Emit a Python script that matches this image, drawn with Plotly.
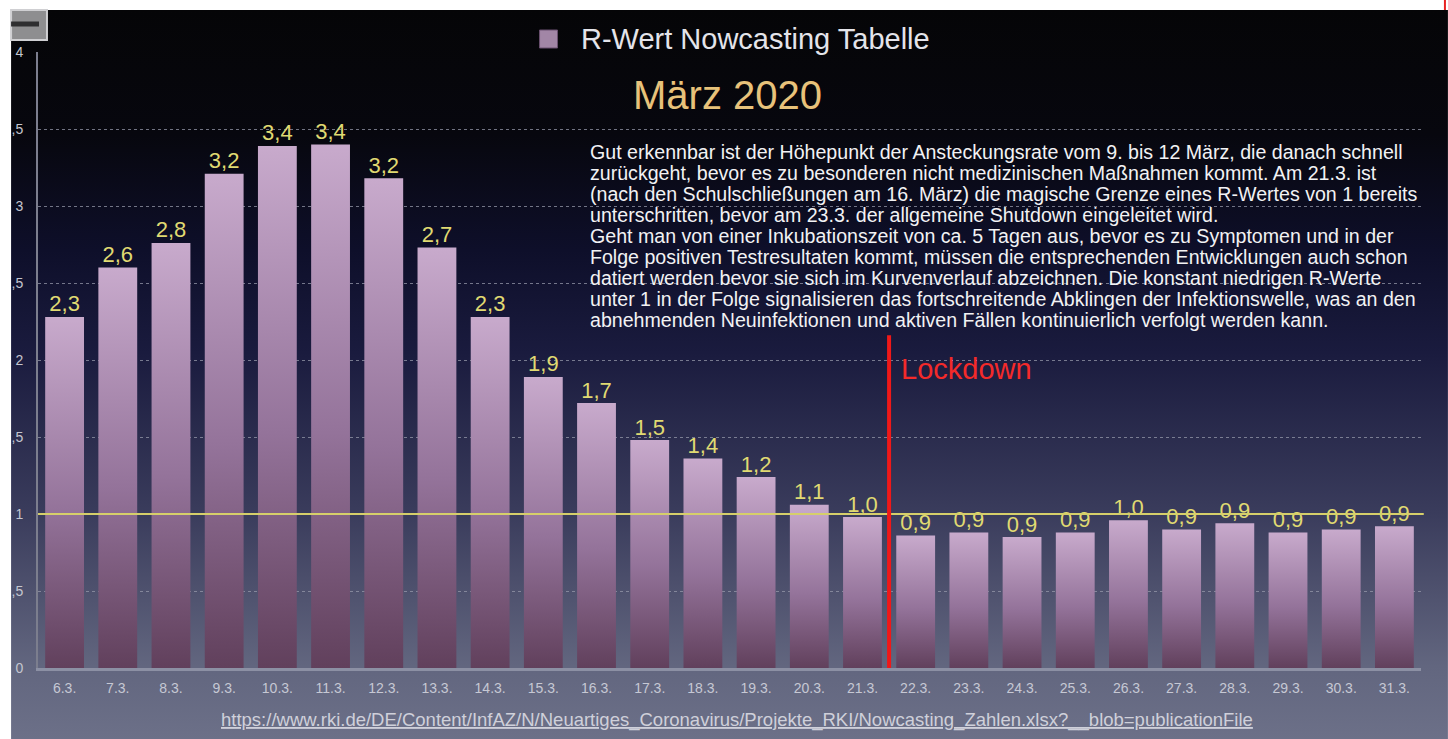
import base64
import plotly.graph_objects as go

# R-Wert Nowcasting, März 2020 (RKI)
days = ["6.3.", "7.3.", "8.3.", "9.3.", "10.3.", "11.3.", "12.3.", "13.3.", "14.3.",
        "15.3.", "16.3.", "17.3.", "18.3.", "19.3.", "20.3.", "21.3.", "22.3.", "23.3.",
        "24.3.", "25.3.", "26.3.", "27.3.", "28.3.", "29.3.", "30.3.", "31.3."]
r_values = [2.28, 2.60, 2.76, 3.21, 3.39, 3.40, 3.18, 2.73, 2.28,
            1.89, 1.72, 1.48, 1.36, 1.24, 1.06, 0.98, 0.86, 0.88,
            0.85, 0.88, 0.96, 0.90, 0.94, 0.88, 0.90, 0.92]
r_labels = ["2,3", "2,6", "2,8", "3,2", "3,4", "3,4", "3,2", "2,7", "2,3",
            "1,9", "1,7", "1,5", "1,4", "1,2", "1,1", "1,0", "0,9", "0,9",
            "0,9", "0,9", "1,0", "0,9", "0,9", "0,9", "0,9", "0,9"]
y_ticks = [0, 0.5, 1, 1.5, 2, 2.5, 3, 3.5, 4]
y_tick_text = ["0", ",5", "1", ",5", "2", ",5", "3", ",5", "4"]
series_name = "R-Wert Nowcasting Tabelle"

lockdown_pos = 15.5  # zwischen 21.3. und 22.3.

info_lines = [
    "Gut erkennbar ist der Höhepunkt der Ansteckungsrate vom 9. bis 12 März, die danach schnell",
    "zurückgeht, bevor es zu besonderen nicht medizinischen Maßnahmen kommt. Am 21.3. ist",
    "(nach den Schulschließungen am 16. März) die magische Grenze eines R-Wertes von 1 bereits",
    "unterschritten, bevor am 23.3. der allgemeine Shutdown eingeleitet wird.",
    "Geht man von einer Inkubationszeit von ca. 5 Tagen aus, bevor es zu Symptomen und in der",
    "Folge positiven Testresultaten kommt, müssen die entsprechenden Entwicklungen auch schon",
    "datiert werden bevor sie sich im Kurvenverlauf abzeichnen. Die konstant niedrigen R-Werte",
    "unter 1 in der Folge signalisieren das fortschreitende Abklingen der Infektionswelle, was an den",
    "abnehmenden Neuinfektionen und aktiven Fällen kontinuierlich verfolgt werden kann.",
]
source_url = ("https://www.rki.de/DE/Content/InfAZ/N/Neuartiges_Coronavirus/Projekte_RKI/"
              "Nowcasting_Zahlen.xlsx?__blob=publicationFile")

W, H = 1448, 739
ML, MR, MT, MB = 34, 27, 52, 71
PW, PH = W - ML - MR, H - MT - MB
FONT = "Liberation Sans, Arial, sans-serif"
BAR_HALF = 0.365  # halbe Balkenbreite in Kategorien
BAR_SCALE = [[0.0, "#61405c"], [0.45, "#94739a"], [1.0, "#c8aacc"]]


def px_x(x):
    return (x - ML) / PW


def px_y(y):
    return (H - MB - y) / PH


# dark keynote-style background gradient as an svg image
stops = [(0.0, "#050507"), (0.17, "#07070e"), (0.33, "#0e0f2a"), (0.47, "#1a1b3e"),
         (0.69, "#3a3c5c"), (0.90, "#62667f"), (1.0, "#6c7088")]
stop_svg = "".join(f'<stop offset="{o}" stop-color="{c}"/>' for o, c in stops)
svg = ('<svg xmlns="http://www.w3.org/2000/svg" width="100" height="100" preserveAspectRatio="none">'
       f'<defs><linearGradient id="g" x1="0" y1="0" x2="0" y2="1">{stop_svg}</linearGradient></defs>'
       '<rect width="100" height="100" fill="url(#g)"/></svg>')
bg_src = "data:image/svg+xml;base64," + base64.b64encode(svg.encode()).decode()

fig = go.Figure()

# Balken mit senkrechtem Farbverlauf (go.Bar kann keinen Verlauf)
for i, value in enumerate(r_values):
    fig.add_trace(go.Scatter(
        x=[i - BAR_HALF, i + BAR_HALF, i + BAR_HALF, i - BAR_HALF, i - BAR_HALF],
        y=[0, 0, value, value, 0],
        mode="none",
        fill="toself",
        fillcolor="#9e7fa0",
        fillgradient=dict(type="vertical", colorscale=BAR_SCALE, start=0, stop=value),
        name=series_name,
        showlegend=False,
        hoverinfo="skip",
    ))

fig.add_trace(go.Scatter(
    x=list(range(len(days))),
    y=r_values,
    text=r_labels,
    mode="text",
    textposition="top center",
    textfont=dict(color="#e0da72", size=22, family=FONT),
    cliponaxis=False,
    showlegend=False,
))

fig.update_layout(
    width=W,
    height=H,
    autosize=False,
    margin=dict(l=ML, r=MR, t=MT, b=MB, pad=0),
    paper_bgcolor="white",
    plot_bgcolor="rgba(0,0,0,0)",
    font=dict(family=FONT),
    showlegend=False,
    images=[dict(
        source=bg_src, xref="paper", yref="paper",
        x=px_x(7), y=px_y(10), sizex=(W - 7) / PW, sizey=(H - 10) / PH,
        sizing="stretch", xanchor="left", yanchor="top", layer="below",
    )],
    xaxis=dict(
        range=[-0.5, len(days) - 0.5],
        tickvals=list(range(len(days))),
        ticktext=days,
        showgrid=False,
        zeroline=False,
        showline=True, linecolor="#8c90a4", linewidth=3,
        ticks="",
        tickfont=dict(size=14, color="#c6c8d4", family=FONT),
        ticklabelstandoff=5,
    ),
    yaxis=dict(
        range=[0, 4],
        tickvals=y_ticks,
        ticktext=y_tick_text,
        showgrid=True, gridcolor="rgba(150,152,170,0.75)", griddash="dot", gridwidth=1,
        showline=True, linecolor="#7c7e8e", linewidth=2,
        zeroline=False,
        ticks="",
        tickfont=dict(size=14, color="#c4c6d0", family=FONT),
        ticklabelstandoff=10,
    ),
)

# Legende wie im Keynote-Original: Quadrat + Text
fig.add_shape(type="rect", xref="paper", yref="paper",
              x0=px_x(537), x1=px_x(555), y0=px_y(48), y1=px_y(30),
              fillcolor="#a286a6", line=dict(color="#6a5070", width=1), layer="above")
fig.add_annotation(x=px_x(577), y=px_y(39), xref="paper", yref="paper",
                   xanchor="left", yanchor="middle",
                   text=series_name, showarrow=False,
                   font=dict(size=29, color="#e4e4ea", family=FONT))

# R = 1 Linie
fig.add_shape(type="line", xref="paper", yref="y", x0=0, x1=1.002, y0=1, y1=1,
              line=dict(color="#d6cf6a", width=2), layer="above")

# Lockdown Markierung
fig.add_shape(type="line", xref="x", yref="y", x0=lockdown_pos, x1=lockdown_pos,
              y0=-0.23, y1=2.16, line=dict(color="#f01818", width=4), layer="above")
fig.add_annotation(x=lockdown_pos, y=1.94, xref="x", yref="y", xanchor="left", xshift=10,
                   text="Lockdown", showarrow=False,
                   font=dict(size=29, color="#f42a2a", family=FONT))

fig.add_annotation(x=px_x(725), y=px_y(95), xref="paper", yref="paper",
                   xanchor="center", yanchor="middle",
                   text="März 2020", showarrow=False,
                   font=dict(size=40, color="#e8c27a", family=FONT))

# Erläuterungstext, Zeile für Zeile (enger Zeilenabstand wie im Original)
for i, line in enumerate(info_lines):
    fig.add_annotation(x=px_x(586), y=px_y(152 + 21 * i), xref="paper", yref="paper",
                       xanchor="left", yanchor="middle", align="left",
                       text=line, showarrow=False,
                       font=dict(size=19.6, color="#f2f2f4", family=FONT))

fig.add_annotation(x=px_x(735), y=px_y(720), xref="paper", yref="paper",
                   xanchor="center", yanchor="middle",
                   text=f"<u>{source_url}</u>", showarrow=False,
                   font=dict(size=18.5, color="#cfd0da", family=FONT))

# screenshot remnants: button top left, red edge top right
fig.add_shape(type="rect", xref="paper", yref="paper",
              x0=px_x(7), x1=px_x(43), y0=px_y(40), y1=px_y(10),
              fillcolor="#8e8e90", line=dict(color="#cfcfd2", width=2), layer="above")
fig.add_shape(type="line", xref="paper", yref="paper",
              x0=px_x(7), x1=px_x(35), y0=px_y(24), y1=px_y(24),
              line=dict(color="#2e2e30", width=5), layer="above")
fig.add_shape(type="line", xref="paper", yref="paper",
              x0=px_x(1445), x1=px_x(1445), y0=px_y(0), y1=px_y(10),
              line=dict(color="#e82020", width=2), layer="above")

fig.write_html("out.html", config={"displayModeBar": False},
               post_script="document.body.style.margin='0';document.body.style.overflow='hidden';")
